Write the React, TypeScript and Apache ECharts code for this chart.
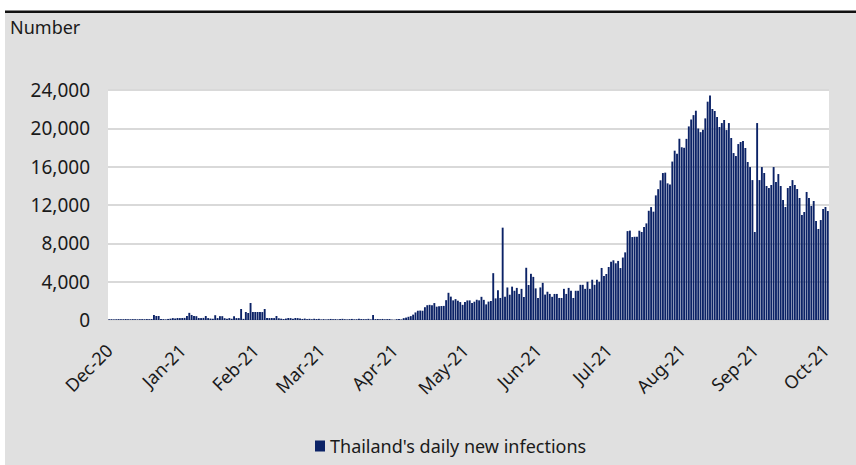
import { useEffect, useRef } from "react";
import * as echarts from "echarts";

// Month keys and tick labels
const monthKeys = ["2020-12", "2021-01", "2021-02", "2021-03", "2021-04", "2021-05", "2021-06", "2021-07", "2021-08", "2021-09", "2021-10"];
const tickLabels = ["Dec-20", "Jan-21", "Feb-21", "Mar-21", "Apr-21", "May-21", "Jun-21", "Jul-21", "Aug-21", "Sep-21", "Oct-21"];

// Daily new infections, one array per month
const dec20 = [70, 80, 60, 75, 90, 70, 80, 95, 70, 75, 90, 80, 70, 85, 90, 80, 95, 85, 100, 520, 420, 420, 100, 90, 60, 110, 140, 200, 160, 210, 200];
const jan21 = [210, 220, 420, 745, 527, 420, 400, 212, 200, 220, 420, 200, 150, 130, 500, 200, 400, 400, 190, 120, 200, 130, 400, 200, 200, 1150, 120, 835, 730, 1775, 835];
const feb21 = [835, 835, 835, 830, 1150, 210, 200, 210, 200, 420, 180, 140, 100, 150, 210, 200, 120, 210, 200, 150, 110, 150, 90, 120, 80, 130, 100, 120];
const mar21 = [60, 90, 50, 80, 110, 70, 90, 60, 100, 120, 80, 60, 90, 110, 70, 80, 130, 100, 90, 80, 120, 60, 520, 90, 100, 80, 110, 70, 90, 100, 40];
const apr21 = [26, 84, 96, 58, 194, 250, 334, 405, 559, 789, 967, 985, 965, 1335, 1543, 1582, 1547, 1767, 1390, 1443, 1458, 1470, 2070, 2839, 2438, 2048, 2179, 2012, 1871, 1583];
const may21 = [1891, 2041, 2048, 1763, 1911, 2112, 2052, 2419, 2101, 1630, 1919, 1983, 4887, 2256, 3095, 2302, 9635, 2438, 3394, 2636, 3481, 3050, 3350, 2720, 3250, 2400, 5450, 3650, 4820, 4500, 3300];
const jun21 = [2300, 3400, 3880, 2650, 2950, 2720, 2420, 2720, 2720, 2300, 2300, 3250, 2720, 3350, 3050, 2300, 3050, 3050, 3670, 3670, 3250, 3990, 3250, 4200, 3670, 4200, 3990, 5430, 4600, 4800];
const jul21 = [5533, 6087, 6230, 5916, 6166, 5420, 6519, 7058, 9276, 9326, 8656, 8685, 8685, 9317, 9186, 9692, 10082, 11397, 11784, 11305, 13002, 13655, 14575, 15335, 15376, 14260, 14150, 16533, 17669, 17345, 18912];
const aug21 = [18027, 17970, 18901, 20200, 20920, 21379, 21838, 19983, 19603, 19843, 21038, 22782, 23418, 22020, 21810, 21180, 20140, 20550, 20870, 19820, 20550, 18990, 17420, 17110, 18360, 18570, 18680, 17950, 16490, 15960, 14600];
const sep21 = [9180, 20550, 14600, 15960, 15340, 13980, 13770, 14090, 15960, 14400, 15230, 13980, 12520, 11790, 13770, 13980, 14600, 14090, 13670, 12730, 10960, 11270, 13360, 12730, 11900, 12420, 10330, 9500, 10430, 11580];
const oct21 = [11790, 11370];

const monthValues = [dec20, jan21, feb21, mar21, apr21, may21, jun21, jul21, aug21, sep21, oct21];
const seriesName = "Thailand's daily new infections";

const yTicks = [0, 4000, 8000, 12000, 16000, 20000, 24000];

export default function App() {
  const ref = useRef<HTMLDivElement>(null);

  useEffect(() => {
    document.body.style.margin = "0";
    if (!ref.current) return;
    const chart = echarts.init(ref.current, null, { renderer: "svg" });

    const categories: string[] = [];
    const values: number[] = [];
    monthValues.forEach((arr, m) => {
      arr.forEach((v, d) => {
        categories.push(`${monthKeys[m]}-${String(d + 1).padStart(2, "0")}`);
        values.push(v);
      });
    });

    const font = "'Noto Sans', sans-serif";
    const textColor = "#1a1a1a";

    chart.setOption({
      animation: false,
      backgroundColor: "#e0e0e0",
      textStyle: { fontFamily: font },
      graphic: [
        { type: "rect", shape: { x: 0, y: 0, width: 856, height: 11 }, style: { fill: "#ffffff" }, silent: true },
        { type: "rect", shape: { x: 0, y: 0, width: 5, height: 465 }, style: { fill: "#ffffff" }, silent: true },
        { type: "rect", shape: { x: 5, y: 10.5, width: 851, height: 2.5 }, style: { fill: "#111111" }, silent: true },
        {
          type: "text",
          left: 10,
          top: 18,
          style: { text: "Number", fontSize: 18, fill: textColor, fontFamily: font },
          silent: true,
        },
      ],
      grid: {
        left: 108,
        right: 27,
        top: 90,
        bottom: 145,
        show: true,
        backgroundColor: "#ffffff",
        borderWidth: 0,
        containLabel: false,
      },
      legend: {
        data: [seriesName],
        left: 310,
        top: 432,
        icon: "rect",
        itemWidth: 10,
        itemHeight: 11,
        itemGap: 5,
        textStyle: { fontSize: 18, color: textColor, fontFamily: font },
      },
      xAxis: {
        type: "category",
        data: categories,
        boundaryGap: true,
        axisLine: { show: false },
        axisTick: { show: false },
        splitLine: { show: false },
        axisLabel: {
          interval: (_i: number, value: string) => value.endsWith("-01"),
          formatter: (value: string) => tickLabels[monthKeys.indexOf(value.slice(0, 7))],
          rotate: 45,
          margin: 27,
          fontSize: 18,
          color: textColor,
          fontFamily: font,
        },
      },
      yAxis: {
        type: "value",
        min: yTicks[0],
        max: yTicks[yTicks.length - 1],
        interval: 4000,
        axisLine: { show: false },
        axisTick: { show: false },
        splitLine: { lineStyle: { color: "#d9d9d9", width: 2 } },
        axisLabel: {
          margin: 18,
          fontSize: 19,
          color: textColor,
          fontFamily: font,
          formatter: (v: number) => v.toLocaleString("en-US"),
        },
      },
      series: [
        {
          name: seriesName,
          type: "bar",
          data: values,
          barCategoryGap: "20%",
          itemStyle: { color: "#0b2266" },
        },
      ],
    });

    return () => chart.dispose();
  }, []);

  return <div ref={ref} style={{ width: 856, height: 465 }} />;
}
